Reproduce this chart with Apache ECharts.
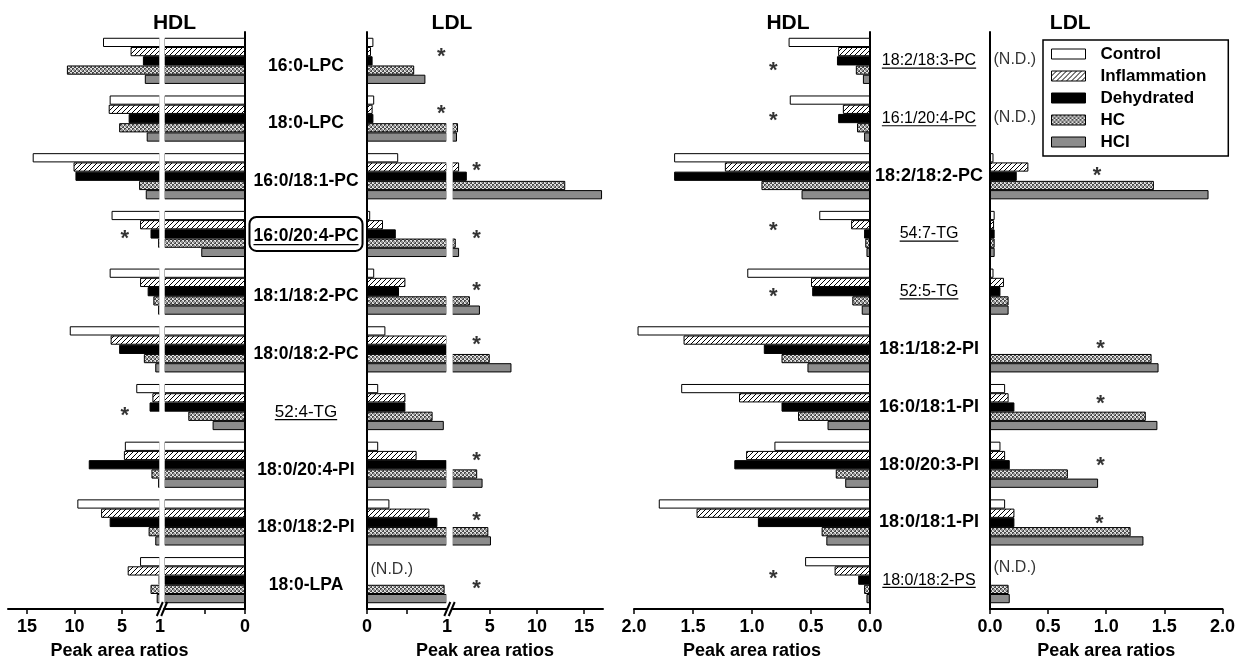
<!DOCTYPE html>
<html><head><meta charset="utf-8">
<script src="https://cdn.jsdelivr.net/npm/echarts@6/dist/echarts.min.js"></script>
<style>html,body{margin:0;padding:0;background:#fff}#c{width:1238px;height:663px}</style>
</head><body><div id="c"></div>
<script>
// ---------------- DATA ----------------
const seriesNames = ['Control', 'Inflammation', 'Dehydrated', 'HC', 'HCI'];
const leftCategories = ['16:0-LPC', '18:0-LPC', '16:0/18:1-PC', '16:0/20:4-PC', '18:1/18:2-PC', '18:0/18:2-PC', '52:4-TG', '18:0/20:4-PI', '18:0/18:2-PI', '18:0-LPA'];
const rightCategories = ['18:2/18:3-PC', '16:1/20:4-PC', '18:2/18:2-PC', '54:7-TG', '52:5-TG', '18:1/18:2-PI', '16:0/18:1-PI', '18:0/20:3-PI', '18:0/18:1-PI', '18:0/18:2-PS'];

// Left pair, HDL (broken axis 0-1 | 1-17)
const leftHDL_Control      = [7.0, 6.3, 14.4, 6.1, 6.3, 10.5, 3.5, 4.7, 9.7, 3.1];
const leftHDL_Inflammation = [4.1, 6.4, 10.1, 3.1, 3.1, 6.2, 1.8, 4.8, 7.2, 4.4];
const leftHDL_Dehydrated   = [2.8, 4.3, 9.9, 2.0, 2.3, 5.3, 2.1, 8.5, 6.3, 1.15];
const leftHDL_HC           = [10.8, 5.3, 3.2, 1.2, 1.7, 2.7, 0.70, 1.9, 2.2, 2.0];
const leftHDL_HCI          = [2.6, 2.4, 2.5, 0.54, 1.2, 1.5, 0.40, 1.2, 1.5, 1.35];

// Left pair, LDL (broken axis 0-1 | 1-17), null = N.D.
const leftLDL_Control      = [0.08, 0.09, 0.39, 0.04, 0.09, 0.23, 0.14, 0.14, 0.28, null];
const leftLDL_Inflammation = [0.05, 0.07, 1.75, 0.20, 0.48, 1.05, 0.48, 0.62, 0.78, null];
const leftLDL_Dehydrated   = [0.07, 0.08, 2.57, 0.36, 0.40, 1.0, 0.48, 1.0, 0.88, null];
const leftLDL_HC           = [0.59, 1.64, 13.0, 1.4, 2.9, 5.0, 0.82, 3.67, 4.85, 0.97];
const leftLDL_HCI          = [0.73, 1.53, 16.9, 1.75, 3.96, 7.3, 0.96, 4.24, 5.13, 1.05];

// Right pair, HDL (0-2)
const rightHDL_Control      = [0.69, 0.68, 1.66, 0.43, 1.04, 1.97, 1.60, 0.81, 1.79, 0.55];
const rightHDL_Inflammation = [0.27, 0.23, 1.23, 0.16, 0.50, 1.58, 1.11, 1.05, 1.47, 0.30];
const rightHDL_Dehydrated   = [0.28, 0.27, 1.66, 0.05, 0.49, 0.90, 0.75, 1.15, 0.95, 0.10];
const rightHDL_HC           = [0.12, 0.11, 0.92, 0.04, 0.15, 0.75, 0.61, 0.29, 0.41, 0.05];
const rightHDL_HCI          = [0.06, 0.05, 0.58, 0.03, 0.07, 0.53, 0.36, 0.21, 0.37, 0.03];

// Right pair, LDL (0-2), null = N.D. / not shown
const rightLDL_Control      = [null, null, 0.03, 0.04, 0.03, null, 0.13, 0.09, 0.13, null];
const rightLDL_Inflammation = [null, null, 0.33, 0.035, 0.12, null, 0.16, 0.13, 0.21, null];
const rightLDL_Dehydrated   = [null, null, 0.23, 0.04, 0.09, null, 0.21, 0.17, 0.21, null];
const rightLDL_HC           = [null, null, 1.41, 0.04, 0.16, 1.39, 1.34, 0.67, 1.21, 0.16];
const rightLDL_HCI          = [null, null, 1.88, 0.04, 0.16, 1.45, 1.44, 0.93, 1.32, 0.17];

// Annotations: [x value, category position]
const leftHDLStars      = [[4.7, 3.02], [4.7, 6.08]];
const leftLDLStarsLow   = [[0.93, -0.13], [0.93, 0.85]];
const leftLDLStarsHigh  = [[3.6, 1.83], [3.6, 3.02], [3.6, 3.91], [3.6, 4.86], [3.6, 6.86], [3.6, 7.91], [3.6, 9.09]];
const rightHDLStars     = [[0.82, 0.10], [0.82, 0.98], [0.82, 2.87], [0.82, 4.03], [0.82, 8.91]];
const rightLDLStars     = [[0.92, 1.92], [0.95, 4.92], [0.95, 5.88], [0.95, 6.95], [0.94, 7.95]];
const leftLDLND         = [[0, 8.82]];
const rightLDLND        = [[0, -0.02], [0, 0.99], [0, 8.79]];

// Label styling lists
const leftUnderlined  = ['52:4-TG'];
const leftBoxed       = ['16:0/20:4-PC'];
const rightUnderlined = ['18:2/18:3-PC', '16:1/20:4-PC', '54:7-TG', '52:5-TG', '18:0/18:2-PS'];

// ---------------- CHART ----------------
const FONT = '"Liberation Sans", Arial, Helvetica, sans-serif';
const chart = echarts.init(document.getElementById('c'), null, {renderer: 'canvas'});

const hatch = (() => { const s = 5; const c = document.createElement('canvas'); c.width = c.height = s;
  const g = c.getContext('2d'); g.fillStyle = '#fff'; g.fillRect(0, 0, s, s);
  g.strokeStyle = '#000'; g.lineWidth = 1; g.beginPath();
  g.moveTo(0, s); g.lineTo(s, 0); g.moveTo(-1, 1); g.lineTo(1, -1); g.moveTo(s - 1, s + 1); g.lineTo(s + 1, s - 1);
  g.stroke(); return c; })();
const checker = (() => { const c = document.createElement('canvas'); c.width = c.height = 4;
  const g = c.getContext('2d'); g.fillStyle = '#e2e2e2'; g.fillRect(0, 0, 4, 4);
  g.fillStyle = '#4a4a4a'; g.fillRect(0, 0, 2, 2); g.fillRect(2, 2, 2, 2);
  g.fillStyle = '#9a9a9a'; g.fillRect(1, 1, 2, 2); return c; })();
const fills = ['#ffffff', {image: hatch, repeat: 'repeat'}, '#000000', {image: checker, repeat: 'repeat'}, '#8c8c8c'];

const grids = [
  {left: 164, top: 32, width: 81, height: 577},
  {left: 8, top: 32, width: 152, height: 577},
  {left: 367, top: 32, width: 80, height: 577},
  {left: 452, top: 32, width: 151, height: 577},
  {left: 634, top: 32, width: 236, height: 577},
  {left: 990, top: 32, width: 236, height: 577}
];

const axisLineStyle = {color: '#000', width: 2};
function xAx(g, min, max, inverse, labelVals, tickVals, fmt) {
  return {type: 'value', gridIndex: g, min, max, inverse, position: 'bottom',
    splitLine: {show: false},
    axisLine: {show: true, onZero: false, lineStyle: axisLineStyle},
    axisTick: {show: true, customValues: tickVals, length: 5, lineStyle: {color: '#000', width: 1.5}},
    axisLabel: {show: true, customValues: labelVals, color: '#000', fontSize: 18, fontWeight: 'bold', fontFamily: FONT, margin: 9,
      formatter: fmt || (v => String(v))}};
}
const fx1 = v => v.toFixed(1);
const xAxes = [
  xAx(0, 0, 1, true, [0], [0, 0.5]),
  xAx(1, 1, 17, true, [1, 5, 10, 15], [5, 10, 15]),
  xAx(2, 0, 1, false, [0, 1], [0, 0.5]),
  xAx(3, 1, 17, false, [5, 10, 15], [5, 10, 15]),
  xAx(4, 0, 2, true, [0, 0.5, 1, 1.5, 2], [0, 0.5, 1, 1.5, 2], fx1),
  xAx(5, 0, 2, false, [0, 0.5, 1, 1.5, 2], [0, 0.5, 1, 1.5, 2], fx1)
];

function yCat(g, data, show, pos, label) {
  return {type: 'category', gridIndex: g, data, inverse: true, position: pos, show,
    axisLine: {show: true, onZero: false, lineStyle: axisLineStyle},
    axisTick: {show: false}, splitLine: {show: false},
    axisLabel: label || {show: false}};
}
const leftLabel = {show: true, interval: 0, margin: 61, align: 'center', color: '#000', fontFamily: FONT,
  formatter: v => leftBoxed.includes(v) ? '{x|' + v + '}' : (leftUnderlined.includes(v) ? '{u|' + v + '}' : '{b|' + v + '}'),
  rich: {
    b: {fontSize: 17.5, fontWeight: 'bold', color: '#000', fontFamily: FONT, padding: [10, 0, 0, 0]},
    u: {fontSize: 17, fontWeight: 'normal', color: '#000', fontFamily: FONT, padding: [10, 0, 0, 0]},
    x: {fontSize: 17.5, fontWeight: 'bold', color: '#000', fontFamily: FONT, borderColor: '#000', borderWidth: 2, borderRadius: 7, padding: [10, 4, 6, 4]}
  }};
const rightLabel = {show: true, interval: 0, margin: 61, align: 'center', color: '#000', fontFamily: FONT,
  formatter: v => rightUnderlined.includes(v) ? '{u|' + v + '}' : '{b|' + v + '}',
  rich: {
    b: {fontSize: 18, fontWeight: 'bold', color: '#000', fontFamily: FONT},
    u: {fontSize: 16, fontWeight: 'normal', color: '#000', fontFamily: FONT}
  }};
const yAxes = [
  yCat(0, leftCategories, true, 'right'),
  yCat(1, leftCategories, false, 'right'),
  yCat(2, leftCategories, true, 'left', leftLabel),
  yCat(3, leftCategories, false, 'left'),
  yCat(4, rightCategories, true, 'right'),
  yCat(5, rightCategories, true, 'left', rightLabel)
];
for (let g = 0; g < 6; g++) yAxes.push({type: 'value', gridIndex: g, min: -0.5, max: 9.5, inverse: true, show: false});

const low = v => v == null ? null : Math.min(v, 1);
const high = v => (v == null || v <= 1) ? null : v;
const ident = v => v;
function bars(g, arrays, tf) {
  return seriesNames.map((name, k) => ({type: 'bar', name, xAxisIndex: g, yAxisIndex: g,
    data: arrays[k].map(tf), barCategoryGap: '20%', barGap: '0%', clip: true,
    itemStyle: {color: fills[k], borderColor: '#000', borderWidth: 1},
    emphasis: {disabled: true}, silent: true}));
}
function stars(g, pts) {
  return {type: 'scatter', xAxisIndex: g, yAxisIndex: 6 + g, data: pts, symbolSize: 1, silent: true,
    itemStyle: {color: 'rgba(0,0,0,0)'}, z: 5,
    label: {show: true, position: 'inside', formatter: '*', fontSize: 22, fontWeight: 'bold', color: '#000', fontFamily: FONT, offset: [0, 4]}};
}
function nds(g, pts) {
  return {type: 'scatter', xAxisIndex: g, yAxisIndex: 6 + g, data: pts, symbolSize: 1, silent: true,
    itemStyle: {color: 'rgba(0,0,0,0)'}, z: 5,
    label: {show: true, position: 'right', distance: 3, formatter: '(N.D.)', fontSize: 16, color: '#000', fontFamily: FONT}};
}
const LH = [leftHDL_Control, leftHDL_Inflammation, leftHDL_Dehydrated, leftHDL_HC, leftHDL_HCI];
const LL = [leftLDL_Control, leftLDL_Inflammation, leftLDL_Dehydrated, leftLDL_HC, leftLDL_HCI];
const RH = [rightHDL_Control, rightHDL_Inflammation, rightHDL_Dehydrated, rightHDL_HC, rightHDL_HCI];
const RL = [rightLDL_Control, rightLDL_Inflammation, rightLDL_Dehydrated, rightLDL_HC, rightLDL_HCI];

const series = [].concat(
  bars(0, LH, low), bars(1, LH, high), bars(2, LL, low), bars(3, LL, high),
  bars(4, RH, ident), bars(5, RL, ident),
  [stars(1, leftHDLStars), stars(2, leftLDLStarsLow), stars(3, leftLDLStarsHigh),
   stars(4, rightHDLStars), stars(5, rightLDLStars), nds(2, leftLDLND), nds(5, rightLDLND)]
);

const option = {
  animation: false,
  backgroundColor: '#fff',
  textStyle: {fontFamily: FONT},
  grid: grids,
  xAxis: xAxes,
  yAxis: yAxes,
  legend: {data: seriesNames, orient: 'vertical', left: 1043, top: 40, itemWidth: 34, itemHeight: 10, itemGap: 4,
    padding: [5, 22, 5, 8], borderColor: '#000', borderWidth: 1.5, backgroundColor: '#fff', selectedMode: false, icon: 'rect',
    itemStyle: {borderColor: '#000', borderWidth: 1},
    textStyle: {fontSize: 17, fontWeight: 'bold', color: '#000', fontFamily: FONT, lineHeight: 18, padding: [0, 0, 0, 10]}},
  series
};
chart.setOption(option);

// ---------------- DECORATIONS ----------------
const gfx = [];
function text(str, x, y, size, weight) {
  gfx.push({type: 'text', x, y, z: 100, style: {text: str, align: 'center', verticalAlign: 'middle', fontSize: size, fontWeight: weight, fontFamily: FONT, fill: '#000'}});
}
const px = (ax, v) => chart.convertToPixel({xAxisIndex: ax}, v);
const py = (ax, v) => chart.convertToPixel({yAxisIndex: ax}, v);
const yTop = py(6, -0.5), yBot = py(6, 9.5);

text('HDL', (px(1, 17) + px(0, 0)) / 2 + 48, 23, 21, 'bold');
text('LDL', (px(2, 0) + px(3, 17)) / 2 - 33, 23, 21, 'bold');
text('HDL', (px(4, 0) + px(4, 2)) / 2 + 36, 23, 21, 'bold');
text('LDL', (px(5, 0) + px(5, 2)) / 2 - 36, 23, 21, 'bold');
text('Peak area ratios', (px(1, 17) + px(0, 0)) / 2 - 7, 651, 18, 'bold');
text('Peak area ratios', (px(2, 0) + px(3, 17)) / 2, 651, 18, 'bold');
text('Peak area ratios', (px(4, 0) + px(4, 2)) / 2, 651, 18, 'bold');
text('Peak area ratios', (px(5, 0) + px(5, 2)) / 2, 651, 18, 'bold');

// axis breaks
function brk(xa, xb) {
  const a = Math.min(xa, xb), b = Math.max(xa, xb);
  gfx.push({type: 'rect', z: 100, shape: {x: a - 0.7, y: yTop, width: b - a + 1.4, height: yBot - yTop - 2}, style: {fill: '#fff'}});
  const mid = (a + b) / 2;
  [-2.2, 2.2].forEach(dx => gfx.push({type: 'line', z: 101, shape: {x1: mid + dx - 3, y1: yBot + 7, x2: mid + dx + 3, y2: yBot - 7}, style: {stroke: '#000', lineWidth: 2}}));
}
brk(px(1, 1), px(0, 1));
brk(px(2, 1), px(3, 1));

// underlines
const meas = document.createElement('canvas').getContext('2d');
function underline(str, cx, cy, size, weight) {
  meas.font = weight + ' ' + size + 'px ' + FONT;
  const w = meas.measureText(str).width;
  gfx.push({type: 'line', z: 100, shape: {x1: cx - w / 2, y1: cy, x2: cx + w / 2, y2: cy}, style: {stroke: '#000', lineWidth: 1.2}});
}
const cxL = px(2, 0) - 61, cxR = px(5, 0) - 61;
leftCategories.forEach((c) => {
  const cy = py(2, c);
  if (leftUnderlined.includes(c)) underline(c, cxL, cy + 5 + 0.45 * 17, 17, 'normal');
  if (leftBoxed.includes(c)) underline(c, cxL, cy + 2 + 0.5 * 17.5, 17.5, 'bold');
});
rightCategories.forEach((c) => {
  const cy = py(5, c);
  if (rightUnderlined.includes(c)) underline(c, cxR, cy + 0.45 * 16, 16, 'normal');
});
chart.setOption({graphic: gfx});
</script>
</body></html>
